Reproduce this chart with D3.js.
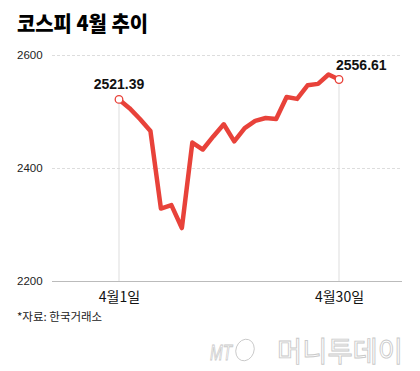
<!DOCTYPE html>
<html>
<head>
<meta charset="utf-8">
<script src="https://cdn.jsdelivr.net/npm/d3@7"></script>
<style>
  html, body { margin: 0; padding: 0; background: #fff; }
  svg { display: block; }
</style>
</head>
<body>
<div id="chart"></div>
<script>
// 2025년 4월 코스피 종가 (거래일)
var days = ['1', '2', '3', '4', '7', '8', '9', '10', '11', '14', '15',
  '16', '17', '18', '21', '22', '23', '24', '25', '28', '29', '30'];
var closes = [2521.39, 2505.86, 2486.70, 2465.42, 2328.20, 2334.23, 2293.70,
  2445.06, 2432.72, 2455.89, 2477.41, 2447.24, 2470.73, 2483.42, 2488.42,
  2486.64, 2525.56, 2522.33, 2546.30, 2548.86, 2565.42, 2556.61];
var yTicks = [2200, 2400, 2600];
var xTicks = ['1', '30'];

var width = 420, height = 371;
var kr = '"Noto Sans CJK KR", "Noto Sans", sans-serif';
var num = '"Liberation Sans", Arial, sans-serif';
var red = '#e8423a';

var svg = d3.select('#chart').append('svg')
  .attr('width', width)
  .attr('height', height);

var x = d3.scalePoint().domain(days).range([119, 339]);
var y = d3.scaleLinear().domain([2200, 2600]).range([281, 55]);

// title
svg.append('text')
  .attr('x', 17).attr('y', 31)
  .attr('font-family', kr).attr('font-weight', 900)
  .attr('font-size', 21)
  .attr('textLength', 131).attr('lengthAdjust', 'spacingAndGlyphs')
  .attr('fill', '#000')
  .text('코스피 4월 추이');

// y axis with grid
var yAxis = svg.append('g')
  .attr('transform', 'translate(52,0)')
  .call(d3.axisLeft(y).tickValues(yTicks).tickSize(-350).tickFormat(d3.format('d')));
yAxis.select('.domain').remove();
yAxis.selectAll('.tick line')
  .attr('stroke', function(d) { return d === 2200 ? '#bbb' : '#ddd'; })
  .attr('stroke-dasharray', function(d) { return d === 2200 ? null : '3,2'; });
yAxis.selectAll('.tick text')
  .attr('x', -35).attr('text-anchor', 'start')
  .attr('font-family', num).attr('font-size', 11.5).attr('fill', '#222');

// vertical guides for first and last day
svg.selectAll('.guide')
  .data(xTicks)
  .enter().append('line')
  .attr('class', 'guide')
  .attr('x1', function(d) { return x(d); })
  .attr('x2', function(d) { return x(d); })
  .attr('y1', function(d) { return y(closes[days.indexOf(d)]); })
  .attr('y2', y(2200))
  .attr('stroke', '#ddd');

// x axis labels
var xAxis = svg.append('g')
  .attr('transform', 'translate(0,' + y(2200) + ')')
  .call(d3.axisBottom(x).tickValues(xTicks).tickSize(0)
    .tickFormat(function(d) { return '4월' + d + '일'; }));
xAxis.select('.domain').remove();
xAxis.selectAll('.tick text')
  .attr('dy', 0).attr('y', 21)
  .attr('font-family', kr).attr('font-size', 14).attr('fill', '#111');

// line
var line = d3.line()
  .x(function(d, i) { return x(days[i]); })
  .y(function(d) { return y(d); });

svg.append('path')
  .datum(closes)
  .attr('d', line)
  .attr('fill', 'none')
  .attr('stroke', red)
  .attr('stroke-width', 4.5)
  .attr('stroke-linejoin', 'round');

// end markers and labels
var ends = [0, closes.length - 1];
svg.selectAll('.marker')
  .data(ends)
  .enter().append('circle')
  .attr('class', 'marker')
  .attr('cx', function(i) { return x(days[i]); })
  .attr('cy', function(i) { return y(closes[i]); })
  .attr('r', 3.8)
  .attr('fill', '#fff')
  .attr('stroke', red)
  .attr('stroke-width', 1.3);

svg.selectAll('.val')
  .data(ends)
  .enter().append('text')
  .attr('class', 'val')
  .attr('x', function(i) { return i === 0 ? x(days[i]) : x(days[i]) - 3; })
  .attr('y', function(i) { return y(closes[i]) - 10; })
  .attr('text-anchor', function(i) { return i === 0 ? 'middle' : 'start'; })
  .attr('font-family', num).attr('font-weight', 'bold').attr('font-size', 14)
  .attr('fill', '#111')
  .text(function(i) { return d3.format('.2f')(closes[i]); });

// source
svg.append('text')
  .attr('x', 17).attr('y', 321)
  .attr('font-family', kr).attr('font-size', 11.5)
  .attr('fill', '#222')
  .text('*자료: 한국거래소');

// watermark
var wm = svg.append('g').attr('fill', 'none').attr('stroke', '#c9c9c9').attr('stroke-width', 0.9);
wm.append('text')
  .attr('x', 210).attr('y', 360)
  .attr('font-family', num).attr('font-style', 'italic').attr('font-size', 22)
  .attr('textLength', 22).attr('lengthAdjust', 'spacingAndGlyphs')
  .text('MT');
wm.append('ellipse')
  .attr('cx', 245).attr('cy', 350).attr('rx', 9).attr('ry', 11)
  .attr('transform', 'rotate(20,245,350)');
wm.append('text')
  .attr('x', 277).attr('y', 362)
  .attr('font-family', kr).attr('font-size', 28)
  .attr('textLength', 126).attr('lengthAdjust', 'spacingAndGlyphs')
  .text('머니투데이');
</script>
</body>
</html>
